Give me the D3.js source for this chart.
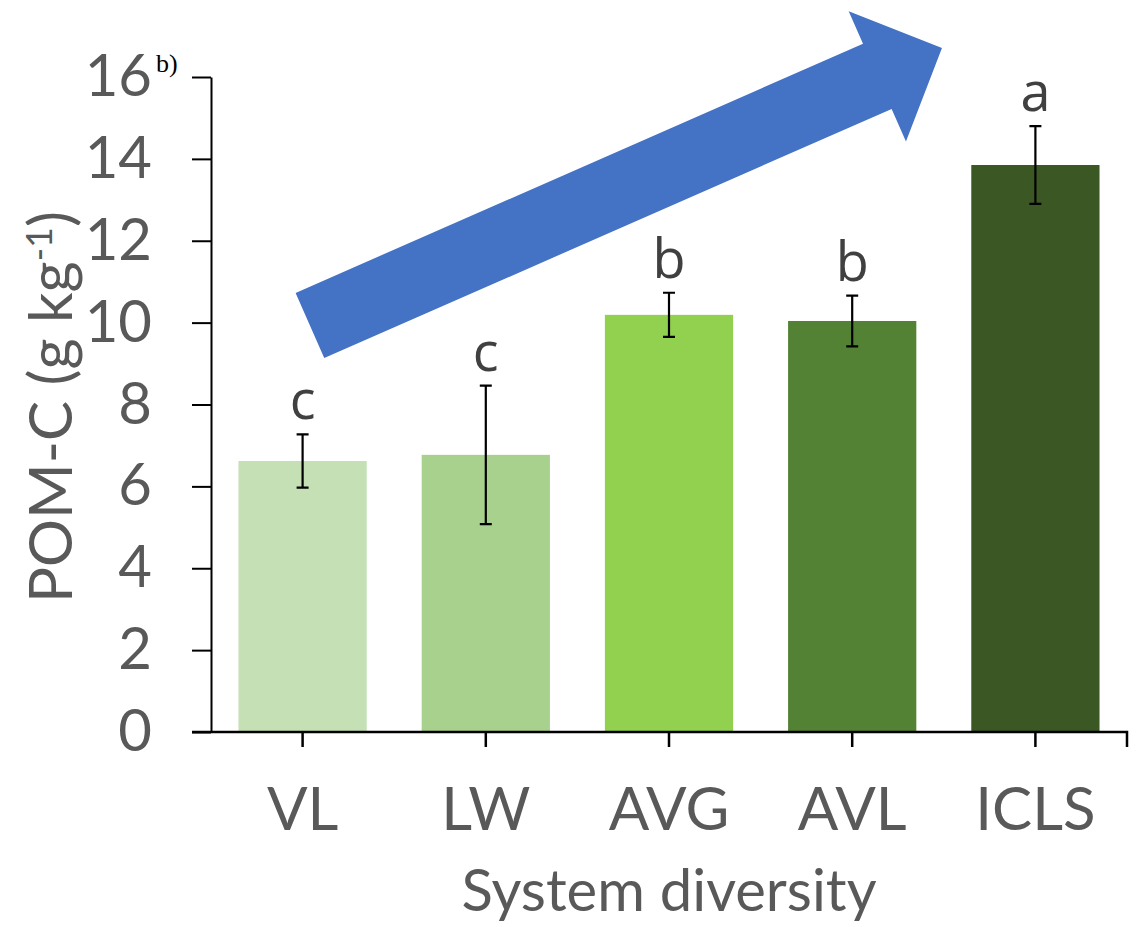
<!DOCTYPE html>
<html>
<head>
<meta charset="utf-8">
<script src="https://cdn.jsdelivr.net/npm/d3@7"></script>
<style>
  html, body { margin: 0; padding: 0; background: #fff; }
  svg { display: block; }
</style>
</head>
<body>
<div id="chart"></div>
<script>
// POM-C by cropping system, with mean ± SE and significance letters
const categories = ["VL", "LW", "AVG", "AVL", "ICLS"];
const pomC       = [6.62, 6.77, 10.19, 10.04, 13.85];
const pomCErr    = [0.65, 1.69, 0.54, 0.62, 0.95];
const letters    = ["c", "c", "b", "b", "a"];
const barColors  = ["#c5e0b4", "#a9d18e", "#92d050", "#548235", "#3a5724"];
const yTicks     = [0, 2, 4, 6, 8, 10, 12, 14, 16];

// trend arrow, in (category position, value) terms
const arrowTail = { pos: 0.04, value: 9.93 };
const arrowTip  = { pos: 3.49, value: 16.71 };

const W = 1142, H = 927;
const margin = { left: 211, right: 15, top: 77, bottom: 195 };
const axisColor = "#000";
const textColor = "#595959";
const fontFamily = "Lato, 'Open Sans', sans-serif";

const svg = d3.select("#chart").append("svg")
  .attr("width", W).attr("height", H);

const x = d3.scaleBand()
  .domain(categories)
  .range([margin.left, W - margin.right])
  .paddingInner(0.3)
  .paddingOuter(0.15);

const y = d3.scaleLinear()
  .domain([0, 16])
  .range([H - margin.bottom, margin.top]);

// category index -> band centre
const xPos = d3.scaleLinear()
  .domain([0, 1])
  .range([x(categories[0]) + x.bandwidth() / 2,
          x(categories[1]) + x.bandwidth() / 2]);

const data = categories.map((c, i) => ({
  cat: c, v: pomC[i], e: pomCErr[i], letter: letters[i], color: barColors[i]
}));

// bars
svg.append("g").selectAll("rect").data(data).join("rect")
  .attr("x", d => x(d.cat))
  .attr("width", x.bandwidth())
  .attr("y", d => y(d.v))
  .attr("height", d => y(0) - y(d.v))
  .attr("fill", d => d.color);

// y axis
const yAxis = svg.append("g")
  .attr("transform", `translate(${margin.left},0)`)
  .call(d3.axisLeft(y).tickValues(yTicks).tickSize(19).tickPadding(40).tickSizeOuter(0));
yAxis.select(".domain").attr("stroke", axisColor).attr("stroke-width", 2);
yAxis.selectAll(".tick line").attr("stroke", axisColor).attr("stroke-width", 2);
yAxis.selectAll(".tick text")
  .attr("fill", textColor)
  .style("font-family", fontFamily)
  .style("font-size", "58px");

// x axis
const xAxis = svg.append("g")
  .attr("transform", `translate(0,${y(0)})`)
  .call(d3.axisBottom(x).tickSize(15).tickPadding(40).tickSizeOuter(0));
xAxis.select(".domain").remove();
xAxis.selectAll(".tick line").attr("stroke", axisColor).attr("stroke-width", 2.5);
xAxis.selectAll(".tick text")
  .attr("fill", textColor)
  .attr("dy", "0.71em")
  .style("font-family", fontFamily)
  .style("font-size", "60px");

// baseline extends left under the y ticks and ends with a tick on the right
const [x0, x1] = x.range();
xAxis.append("path")
  .attr("d", `M${x0 - 19},0H${x1}V15`)
  .attr("fill", "none")
  .attr("stroke", axisColor)
  .attr("stroke-width", 2.5);

// error bars
const capHalf = 6;
const eb = svg.append("g").attr("stroke", "#000").attr("stroke-width", 2.2).attr("fill", "none");
data.forEach(d => {
  const cx = x(d.cat) + x.bandwidth() / 2;
  const yt = y(d.v + d.e), yb = y(d.v - d.e);
  eb.append("path").attr("d",
    `M${cx},${yt}V${yb}M${cx - capHalf},${yt}H${cx + capHalf}M${cx - capHalf},${yb}H${cx + capHalf}`);
});

// significance letters
svg.append("g").selectAll("text").data(data).join("text")
  .attr("x", d => x(d.cat) + x.bandwidth() / 2)
  .attr("y", d => y(d.v + d.e) - 15)
  .attr("text-anchor", "middle")
  .attr("fill", "#404040")
  .style("font-family", "'Open Sans', sans-serif")
  .style("font-size", "54px")
  .text(d => d.letter);

// trend arrow
(function drawArrow() {
  const tx = xPos(arrowTail.pos), ty = y(arrowTail.value);
  const hx = xPos(arrowTip.pos),  hy = y(arrowTip.value);
  const len = Math.hypot(hx - tx, hy - ty);
  const ux = (hx - tx) / len, uy = (hy - ty) / len;
  const nx = -uy, ny = ux;
  const shaftHalf = 35.6, headLen = 70.6, headHalf = 71.2;
  const bx = hx - ux * headLen, by = hy - uy * headLen;
  const pts = [
    [tx + nx * shaftHalf, ty + ny * shaftHalf],
    [bx + nx * shaftHalf, by + ny * shaftHalf],
    [bx + nx * headHalf,  by + ny * headHalf],
    [hx, hy],
    [bx - nx * headHalf,  by - ny * headHalf],
    [bx - nx * shaftHalf, by - ny * shaftHalf],
    [tx - nx * shaftHalf, ty - ny * shaftHalf]
  ];
  svg.append("path")
    .attr("d", d3.line()(pts) + "Z")
    .attr("fill", "#4472c4");
})();

// axis titles
svg.append("text")
  .attr("x", (x0 + x1) / 2)
  .attr("y", 911)
  .attr("text-anchor", "middle")
  .attr("fill", textColor)
  .style("font-family", fontFamily)
  .style("font-size", "58px")
  .text("System diversity");

const yTitle = svg.append("text")
  .attr("transform", "translate(72,407) rotate(-90)")
  .attr("text-anchor", "middle")
  .attr("fill", textColor)
  .style("font-family", fontFamily)
  .style("font-size", "60px");
yTitle.append("tspan").text("POM-C (g kg");
yTitle.append("tspan").attr("dy", "-0.55em").style("font-size", "36px").text("-1");
yTitle.append("tspan").attr("dy", "0.33em").text(")");

// panel label
svg.append("text")
  .attr("x", 156)
  .attr("y", 72)
  .attr("fill", "#000")
  .style("font-family", "'Liberation Serif', 'Times New Roman', serif")
  .style("font-size", "26px")
  .text("b)");
</script>
</body>
</html>
